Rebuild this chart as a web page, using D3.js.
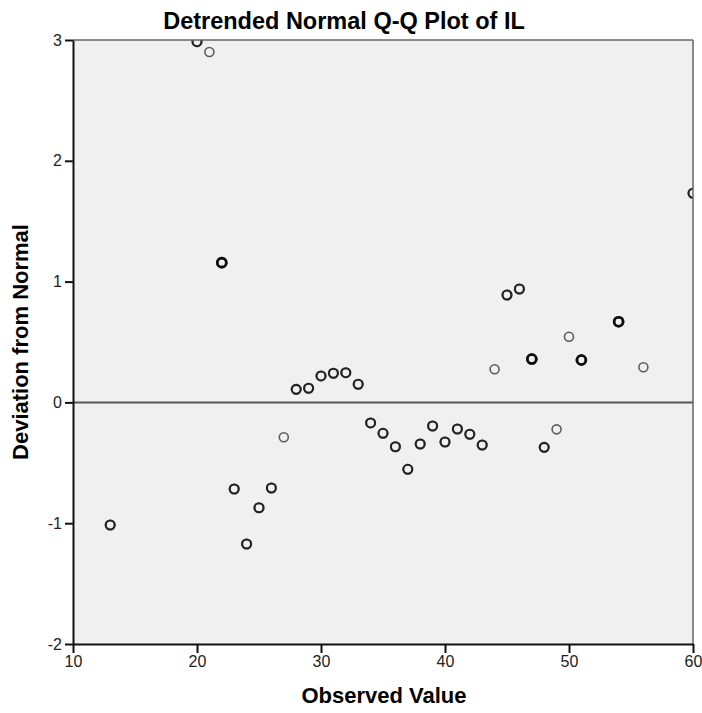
<html>
<head>
<meta charset="utf-8">
<script src="https://d3js.org/d3.v7.min.js"></script>
<style>
body { margin:0; background:#fff; }
</style>
</head>
<body>
<svg id="plot"></svg>
<script>

// observed values and their deviation from normal
var observed = [13,20,21,22,23,24,25,26,27,28,29,30,31,32,33,34,35,36,37,38,39,40,41,42,43,44,45,46,47,48,49,50,51,54,56,60]
var deviation = [-1.015,2.986,2.901,1.157,-0.717,-1.172,-0.872,-0.709,-0.288,0.108,0.117,0.219,0.241,0.246,0.150,-0.170,-0.256,-0.367,-0.554,-0.344,-0.195,-0.328,-0.220,-0.264,-0.353,0.274,0.889,0.939,0.359,-0.372,-0.223,0.544,0.351,0.668,0.291,1.731]
// how many cases sit on each point (darker circle = more cases)
var cases = [2,2,1,3,2,2,2,2,1,2,2,2,2,2,2,2,2,2,2,2,2,2,2,2,2,1,2,2,3,2,1,1,3,3,1,2]

var xTicks = [10,20,30,40,50,60]
var yTicks = [-2,-1,0,1,2,3]

var screen = {width:702, height:713}
var margins = {top:40, left:73, right:9, bottom:69}
var graph = {
    width:screen.width-margins.left-margins.right,
    height:screen.height-margins.top-margins.bottom
}

var svg = d3.select("#plot")
    .attr("width",screen.width)
    .attr("height",screen.height)
    .style("font-family","'Liberation Sans', Arial, sans-serif")

var xScale = d3.scaleLinear().domain([10,60]).range([0,graph.width])
var yScale = d3.scaleLinear().domain([-2,3]).range([graph.height,0])

var g = svg.append("g")
    .attr("transform","translate("+margins.left+","+margins.top+")")

g.append("rect")
    .attr("width",graph.width)
    .attr("height",graph.height)
    .attr("fill","#f0f0f0")

svg.append("clipPath").attr("id","clip")
    .append("rect")
    .attr("width",graph.width)
    .attr("height",graph.height)

// zero reference line
g.append("line")
    .attr("x1",0).attr("x2",graph.width)
    .attr("y1",yScale(0)).attr("y2",yScale(0))
    .attr("stroke","#555")
    .attr("stroke-width",2)

var points = []
observed.forEach(function(v,i)
{
    for(var k=0;k<cases[i];k++)
    {
        points.push({x:v, y:deviation[i], n:cases[i]})
    }
})

g.append("g")
    .attr("clip-path","url(#clip)")
    .selectAll("circle")
    .data(points)
    .enter()
    .append("circle")
    .attr("cx",function(d){return xScale(d.x)})
    .attr("cy",function(d){return yScale(d.y)})
    .attr("r",4.5)
    .attr("fill","none")
    .attr("stroke","#000")
    .attr("stroke-opacity",0.62)
    .attr("stroke-width",function(d){return d.n==3 ? 2.6 : (d.n==2 ? 2.1 : 1.6)})

// frame: top and right in gray
g.append("line")
    .attr("x1",0).attr("x2",graph.width).attr("y1",0).attr("y2",0)
    .attr("stroke","#666").attr("stroke-width",1.5)
g.append("line")
    .attr("x1",graph.width).attr("x2",graph.width).attr("y1",0).attr("y2",graph.height)
    .attr("stroke","#666").attr("stroke-width",1.5)

var fmt = function(d){return String(d)}
var xAxis = d3.axisBottom(xScale).tickValues(xTicks).tickFormat(fmt).tickSize(9).tickPadding(3).tickSizeOuter(0)
var yAxis = d3.axisLeft(yScale).tickValues(yTicks).tickFormat(fmt).tickSize(8).tickPadding(3).tickSizeOuter(0)

var xg = g.append("g")
    .attr("transform","translate(0,"+graph.height+")")
    .call(xAxis)
var yg = g.append("g").call(yAxis)

;[xg,yg].forEach(function(a)
{
    a.selectAll("path").attr("stroke","#111").attr("stroke-width",2)
    a.selectAll("line").attr("stroke","#111").attr("stroke-width",2)
    a.selectAll("text")
        .attr("fill","#222")
        .style("font-family","'Liberation Sans', Arial, sans-serif")
        .style("font-size","16px")
})

svg.append("text")
    .attr("x",344)
    .attr("y",29)
    .attr("text-anchor","middle")
    .attr("font-weight","bold")
    .attr("font-size",23.5)
    .text("Detrended Normal Q-Q Plot of IL")

svg.append("text")
    .attr("x",384)
    .attr("y",703)
    .attr("text-anchor","middle")
    .attr("font-weight","bold")
    .attr("font-size",22)
    .text("Observed Value")

svg.append("text")
    .attr("transform","translate(28,342) rotate(-90)")
    .attr("text-anchor","middle")
    .attr("font-weight","bold")
    .attr("font-size",22)
    .text("Deviation from Normal")

</script>
</body>
</html>
